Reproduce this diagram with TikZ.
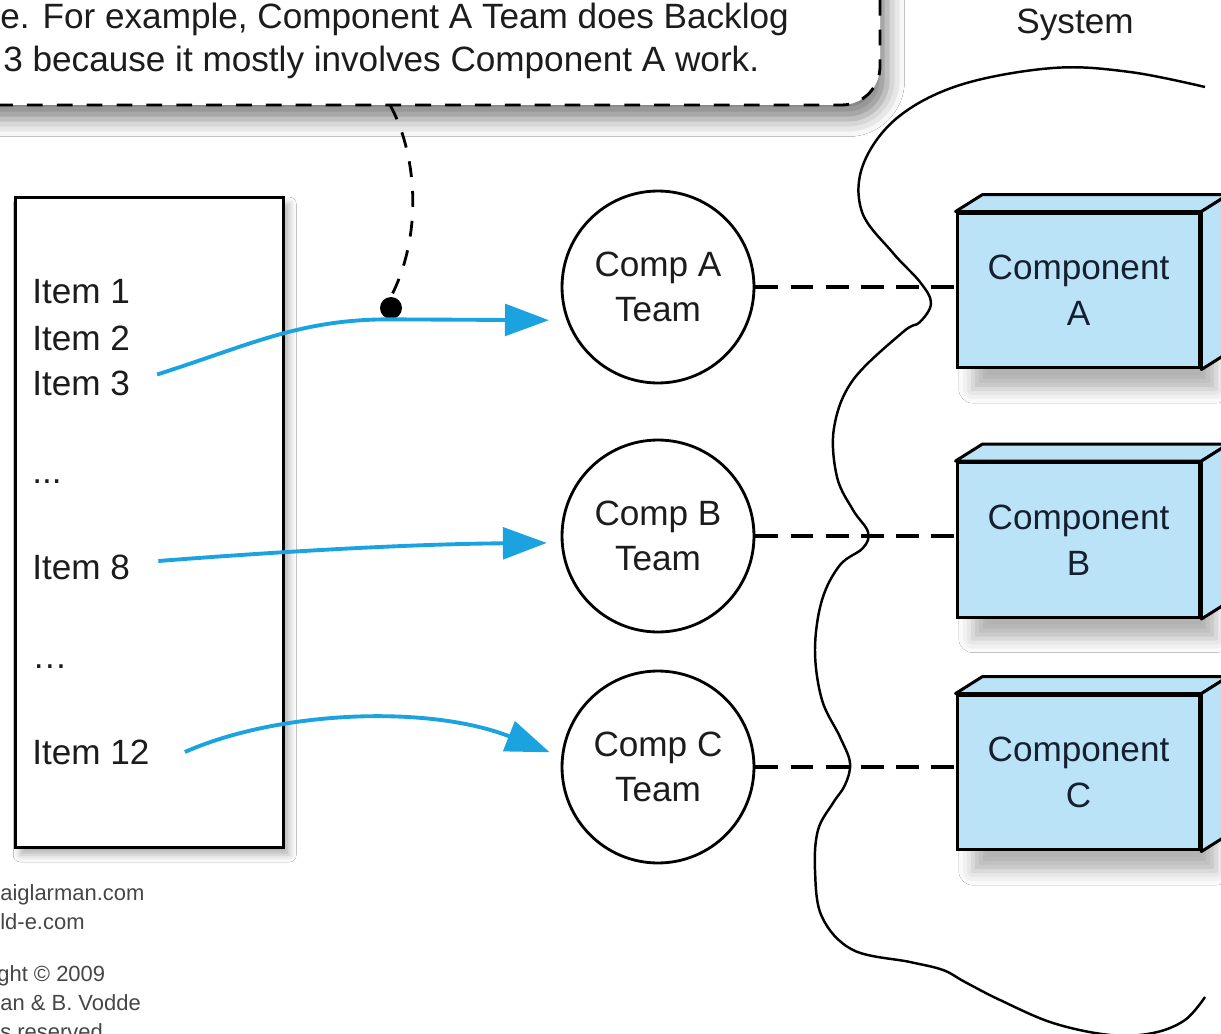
\documentclass[tikz,border=0pt]{standalone}
\usepackage{fontspec}
\setmainfont{Liberation Sans}
\usetikzlibrary{arrows.meta,shadows.blur,calc}
\definecolor{flowblue}{RGB}{27,163,224}
\definecolor{compfill}{RGB}{187,227,247}
\definecolor{ink}{RGB}{28,28,28}
\definecolor{compink}{RGB}{20,32,48}
\definecolor{footgray}{RGB}{70,70,70}
\begin{document}
\begin{tikzpicture}[x=0.02cm,y=-0.02cm,
  bigtext/.style={font=\fontsize{20}{24}\selectfont, text=ink, inner sep=0pt},
  itemtext/.style={bigtext, anchor=west},
  foottext/.style={font=\fontsize{12.5}{15}\selectfont, text=footgray, inner sep=0pt, anchor=west},
  team/.style={circle, draw=black, line width=1.6pt, fill=white, minimum size=3.84cm,
    inner sep=0pt, align=center, font=\fontsize{20}{26}\selectfont, text=ink},
  compbox/.style={rectangle, draw=black, line width=1.7pt, fill=compfill,
    minimum width=4.86cm, minimum height=3.1cm, inner sep=0pt, align=center,
    font=\fontsize{20}{26}\selectfont, text=compink,
    blur shadow={shadow xshift=9pt, shadow yshift=-12pt, shadow blur radius=8pt, shadow opacity=30}},
  face/.style={draw=black, line width=1.7pt, fill=compfill, line join=round},
  flow/.style={draw=flowblue, line width=2.2pt, -{Triangle[length=25pt,width=18pt]}},
  link/.style={draw=black, line width=1.9pt, dash pattern=on 13pt off 7pt},
  notedash/.style={draw=black, line width=1.6pt, dash pattern=on 9pt off 8pt},
  cloudline/.style={draw=black, line width=1.4pt, line join=round}
]
\useasboundingbox (0,0) rectangle (1221,1034);
\fill[white] (0,0) rectangle (1221,1034);

% ---- note balloon ----
\fill[white, rounded corners=22pt,
  blur shadow={shadow xshift=4pt, shadow yshift=-8pt, shadow blur radius=10pt, shadow opacity=50}]
  (-60,-60) rectangle (880,105);
\draw[notedash, rounded corners=22pt] (880,-60) -- (880,105) -- (-60,105);
\node[bigtext, anchor=west] (note1) at (0,19) {e. For example, Component A Team does Backlog};
\node[bigtext, anchor=west] (note2) at (3,62) {3 because it mostly involves Component A work.};
\coordinate (notetail) at (390,105);

% ---- system boundary ----
\node[bigtext] (system) at (1075,25) {System};
\draw[cloudline] plot[smooth, tension=0.6] coordinates {
  (1205,87) (1130,72) (1053,68) (960,85) (897,118) (863,165) (862,212)
  (893,253) (920,282) (931,303) (920,322) (903,332) (853,380) (834,428) (837,477)
  (853,510) (868,532) (863,548) (840,565) (822,600) (815,650) (822,700) (840,737)
  (850,763) (845,785) (833,803) (818,830) (815,870) (822,917) (853,950) (910,962)
  (943,970) (965,982) (1000,1000) (1053,1023) (1110,1035) (1153,1033) (1185,1020)
  (1205,997)};

% ---- backlog ----
\node[draw=black, line width=1.7pt, fill=white, minimum width=5.38cm, minimum height=13.02cm,
  blur shadow={shadow xshift=3pt, shadow yshift=-4pt, shadow blur radius=4pt, shadow opacity=30}]
  (backlog) at (149.5,522.5) {};
\node[itemtext] (item1) at (32,292) {Item 1};
\node[itemtext] (item2) at (32,338) {Item 2};
\node[itemtext] (item3) at (32,383) {Item 3};
\node[itemtext] (gap1) at (32,482) {...};
\node[itemtext] (item8) at (32,567) {Item 8};
\node[itemtext] (gap2) at (32,667) {…};
\node[itemtext] (item12) at (32,752) {Item 12};

% ---- teams ----
\node[team] (teamA) at (658,287) {Comp A\\Team};
\node[team] (teamB) at (658,536) {Comp B\\Team};
\node[team] (teamC) at (658,767) {Comp C\\Team};

% ---- components ----
\foreach \name/\ypos/\lbl in {compA/290.5/A, compB/540/B, compC/772.5/C}{
  \node[compbox] (\name) at (1078.5,\ypos) {Component\\\lbl};
  \draw[face] (\name.north west) -- ++(27,-17) -- ($(\name.north east)+(27,-17)$)
    -- (\name.north east) -- cycle;
  \draw[face] (\name.north east) -- ++(27,-17) -- ($(\name.south east)+(27,-17)$)
    -- (\name.south east) -- cycle;
}

% ---- team to component links ----
\draw[link] (teamA.east) -- (teamA.east -| compA.west);
\draw[link] (teamB.east) -- (teamB.east -| compB.west);
\draw[link] (teamC.east) -- (teamC.east -| compC.west);

% ---- backlog items to teams ----
\node[circle, fill=black, minimum size=0.44cm, inner sep=0pt] (pin) at (391,308) {};
\draw[flow, shorten <=16pt, shorten >=10pt]
  (item3.east) .. controls (250,345) and (300,319) .. (pin.south) -- (teamA.200);
\draw[flow, shorten >=8pt]
  ($(item8.east)+(28,-6)$) .. controls (300,550) and (420,544) .. (teamB.184);
\draw[flow, shorten >=7pt]
  ($(item12.east)+(35,0)$) .. controls (280,710) and (430,705) .. (teamC.174);
\draw[notedash] (notetail) .. controls (415,150) and (425,230) .. (pin.north);

% ---- footer ----
\node[foottext] (foot1) at (0,895) {aiglarman.com};
\node[foottext] (foot2) at (0,922) {ld-e.com};
\node[foottext] (foot3) at (-3,976) {ght © 2009};
\node[foottext] (foot4) at (0,1003) {an \& B. Vodde};
\node[foottext] (foot5) at (0,1032) {s reserved.};
\end{tikzpicture}
\end{document}
